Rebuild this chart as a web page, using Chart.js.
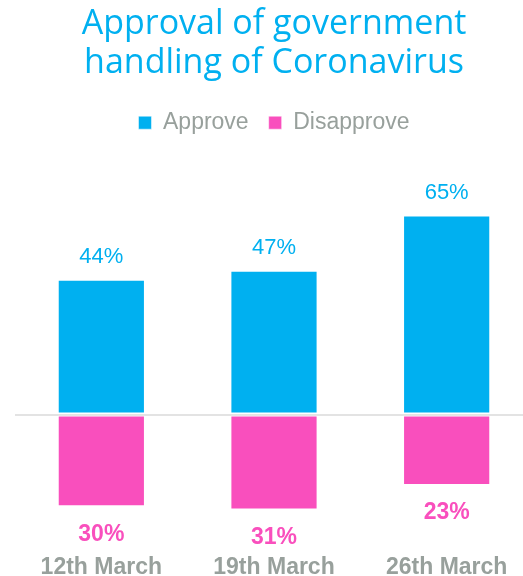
<!DOCTYPE html>
<html>
<head>
<meta charset="utf-8">
<script src="https://cdn.jsdelivr.net/npm/chart.js@4/dist/chart.umd.min.js"></script>
<style>
  html, body { margin: 0; padding: 0; background: #fff; overflow: hidden; }
  #wrap { width: 523px; height: 576px; overflow: hidden; position: relative; }
  #box { width: 548px; height: 576px; position: absolute; left: 0; top: 0; }
</style>
</head>
<body>
<div id="wrap"><div id="box"><canvas id="c"></canvas></div></div>
<script>
const categories = ['12th March', '19th March', '26th March'];
const approve = [44, 47, 65];
const disapprove = [30, 31, 23];
const seriesNames = ['Approve', 'Disapprove'];
const titleLines = ['Approval of government', 'handling of Coronavirus'];

const BLUE = '#00B0F0';
const PINK = '#F94FBD';
const GREY = '#98A09C';

const labelPlugin = {
  id: 'barLabels',
  afterDatasetsDraw(chart) {
    const ctx = chart.ctx;
    ctx.save();
    ctx.textAlign = 'center';
    ctx.textBaseline = 'middle';
    chart.data.datasets.forEach((ds, di) => {
      const meta = chart.getDatasetMeta(di);
      meta.data.forEach((el, i) => {
        const v = Math.abs(ds.data[i]);
        if (di === 0) {
          ctx.font = '22px "Liberation Sans", Arial, sans-serif';
          ctx.fillStyle = BLUE;
          ctx.fillText(v + '%', el.x, el.y - 23);
        } else {
          ctx.font = 'bold 23px "Liberation Sans", Arial, sans-serif';
          ctx.fillStyle = PINK;
          ctx.fillText(v + '%', el.x, el.y + 28);
        }
      });
    });
    ctx.restore();
  }
};

new Chart(document.getElementById('c'), {
  type: 'bar',
  data: {
    labels: categories,
    datasets: [
      { label: seriesNames[0], data: approve, backgroundColor: BLUE, borderColor: 'rgba(255,255,255,0.5)', borderWidth: 1, borderSkipped: false },
      { label: seriesNames[1], data: disapprove.map(v => -v), backgroundColor: PINK, borderColor: 'rgba(255,255,255,0.5)', borderWidth: 1, borderSkipped: false }
    ]
  },
  options: {
    responsive: true,
    maintainAspectRatio: false,
    animation: false,
    layout: { padding: { left: 15, right: 15, top: 0, bottom: -7 } },
    datasets: { bar: { categoryPercentage: 1, barPercentage: 0.505 } },
    plugins: {
      title: {
        display: true,
        text: titleLines,
        color: BLUE,
        font: { family: '"Century Gothic", "Open Sans", sans-serif', size: 34, weight: 'normal', lineHeight: 1.15 },
        padding: { top: 5, bottom: 8 }
      },
      legend: {
        display: true,
        labels: {
          color: GREY,
          boxWidth: 13, boxHeight: 13,
          font: { family: '"Liberation Sans", Arial, sans-serif', size: 23 },
          padding: 20
        }
      },
      tooltip: { enabled: false }
    },
    scales: {
      x: {
        stacked: true,
        grid: { display: false },
        border: { display: false },
        ticks: { color: GREY, font: { family: '"Liberation Sans", Arial, sans-serif', size: 23, weight: 'bold' }, padding: 2 }
      },
      y: {
        stacked: true,
        min: -42.1, max: 88.3,
        z: 1,
        border: { display: false },
        grid: {
          drawTicks: false,
          lineWidth: 2,
          color: c => (c.tick && c.tick.value === 0) ? '#E3E3E3' : 'transparent'
        },
        ticks: { display: false, stepSize: 1, autoSkip: false }
      }
    }
  },
  plugins: [labelPlugin]
});
</script>
</body>
</html>
